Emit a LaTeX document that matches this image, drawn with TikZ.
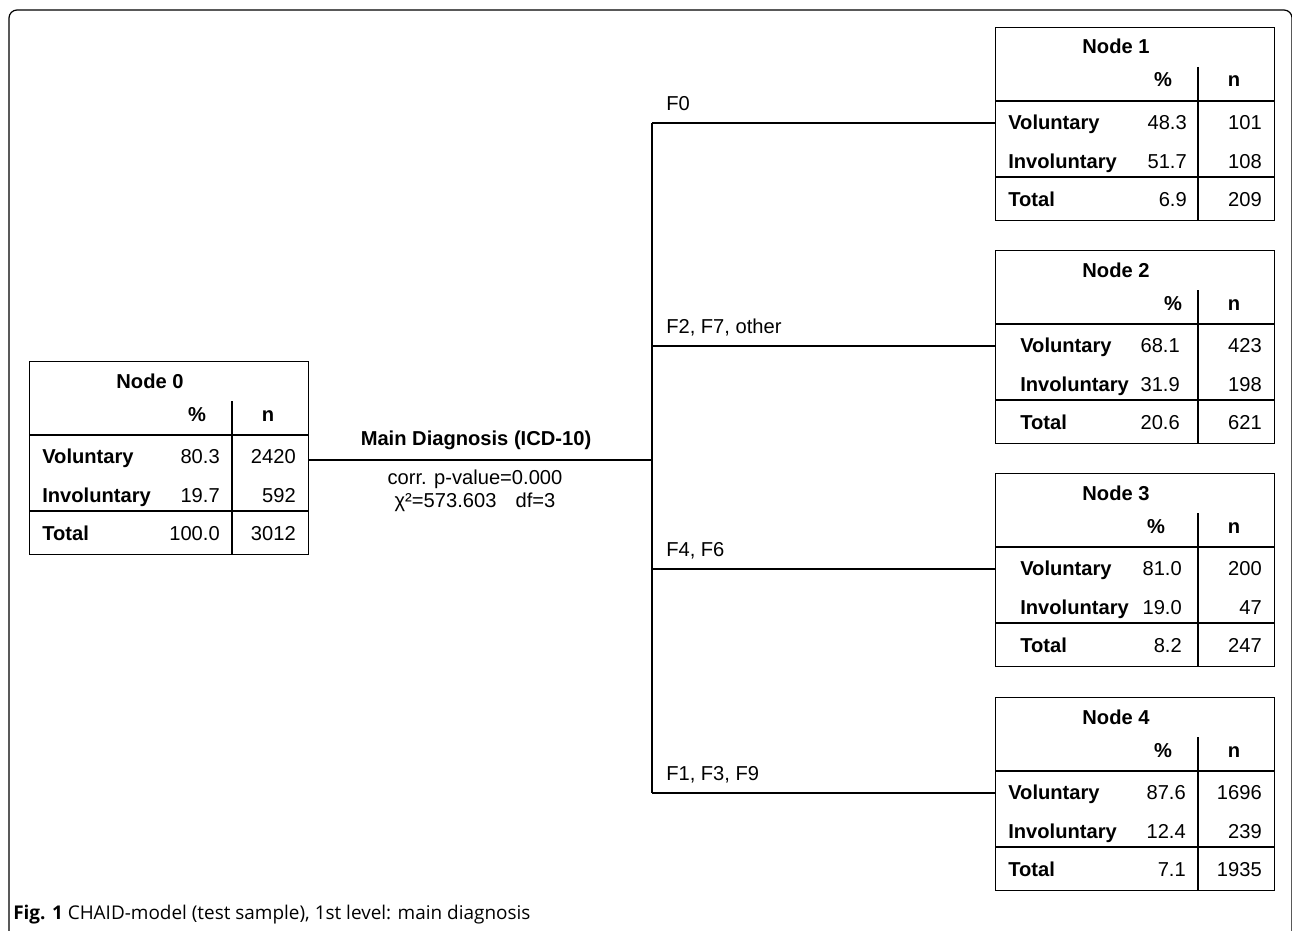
\documentclass[tikz,border=0pt]{standalone}
\usepackage{fontspec}
\setmainfont{Liberation Sans}
\newfontfamily\capfont{Open Sans}
\usetikzlibrary{positioning}

\begin{document}
\begin{tikzpicture}[x=0.75pt,y=-0.75pt,
  every node/.style={font=\fontsize{15.1}{18}\selectfont,inner sep=0pt},
  tablebox/.style={draw,line width=1pt,minimum width=209.25pt,minimum height=144.75pt,anchor=north west},
  rule/.style={line width=1pt},
  link/.style={line width=1pt},
  head/.style={font=\fontsize{15.1}{18}\selectfont\bfseries,anchor=base},
  rowname/.style={font=\fontsize{15.1}{18}\selectfont\bfseries,anchor=base west},
  value/.style={anchor=base east},
  branch/.style={anchor=base west}]
  \useasboundingbox (0,0) rectangle (1292,931);

  % frame round the figure
  \draw [line width=0.9pt,rounded corners=6pt] (9,945) -- (9,10) -- (1292,10) -- (1292,945);

  % the five nodes of the tree
  \foreach \id/\xl/\yt/\lx/\hx/\px/\vp/\vn/\ip/\iv/\tp/\tn in {
      0/29/361/13/168/191/80.3/2420/19.7/592/100.0/3012,
      1/995/27/13/168/192/48.3/101/51.7/108/6.9/209,
      2/995/250/25/178/185/68.1/423/31.9/198/20.6/621,
      3/995/473/25/161/187/81.0/200/19.0/47/8.2/247,
      4/995/697/13/168/191/87.6/1696/12.4/239/7.1/1935} {
    \begin{scope}[shift={(\xl,\yt)}]
      \node [tablebox] (node\id) at (0,0) {};
      \draw [rule] (0,74) -- (279,74) (0,150) -- (279,150) (203,40) -- (203,193);
      \node [head] (node\id-title) at (121,27) {Node \id};
      \node [head] (node\id-pc) at (\hx,60) {\%};
      \node [head] (node\id-n) at (239,60) {n};
      \node [rowname] (node\id-vol) at (\lx,102) {Voluntary};
      \node [rowname] (node\id-inv) at (\lx,141) {Involuntary};
      \node [rowname] (node\id-tot) at (\lx,179) {Total};
      \node [value] (node\id-vp) at (\px,102) {\vp};
      \node [value] (node\id-ip) at (\px,141) {\ip};
      \node [value] (node\id-tp) at (\px,179) {\tp};
      \node [value] (node\id-vn) at (267,102) {\vn};
      \node [value] (node\id-in) at (267,141) {\iv};
      \node [value] (node\id-tn) at (267,179) {\tn};
      \coordinate (node\id-e) at (279,99);
      \coordinate (node\id-w) at (0,96);
    \end{scope}
  }

  % split on main diagnosis
  \coordinate (split) at (652,0);
  \draw [link] (node0-e) -- (node0-e -| split);
  \draw [link] (split |- node1-w) -- (split |- node4-w);
  \foreach \i in {1,...,4}
    \draw [link] (split |- node\i-w) -- (node\i-w);

  \node [head] (var) at (476,445) {Main Diagnosis (ICD-10)};
  \node [anchor=base] (pval) at (475,484) {corr. p-value=0.000};
  \node [anchor=base] (chi) at (475,507) {χ²=573.603\hspace{0.95em}df=3};

  \node [branch] (lab1) at ([shift={(14,-13)}]split |- node1-w) {F0};
  \node [branch] (lab2) at ([shift={(14,-13)}]split |- node2-w) {F2, F7, other};
  \node [branch] (lab3) at ([shift={(14,-13)}]split |- node3-w) {F4, F6};
  \node [branch] (lab4) at ([shift={(14,-13)}]split |- node4-w) {F1, F3, F9};

  \node [anchor=base west,font=\capfont\fontsize{14.2}{16}\selectfont] (caption) at (13,919)
    {\textbf{Fig. 1} CHAID-model (test sample), 1st level: main diagnosis};
\end{tikzpicture}
\end{document}
